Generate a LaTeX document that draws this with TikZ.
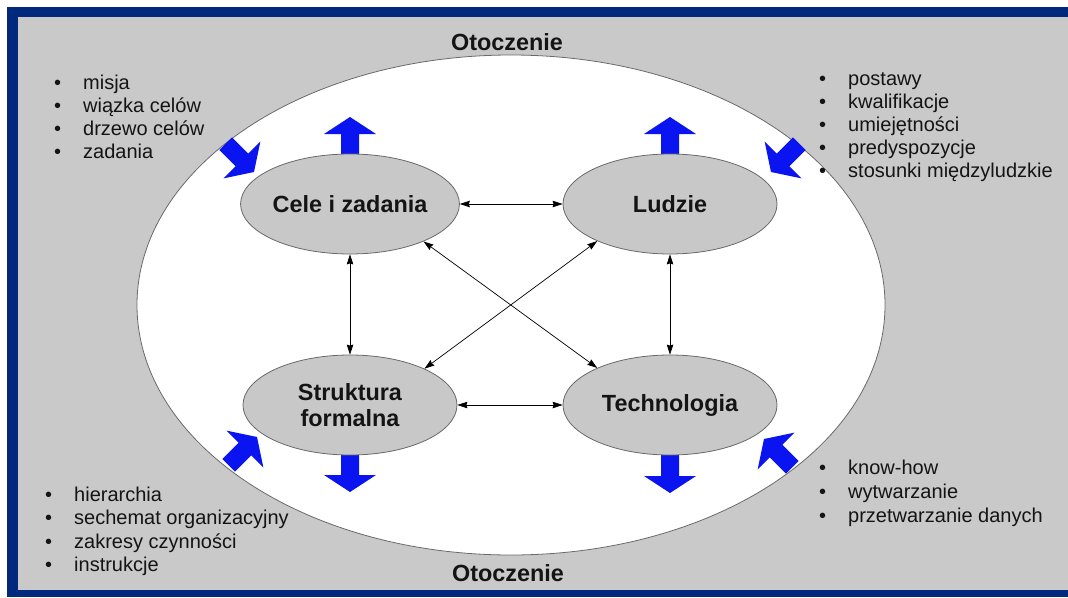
\documentclass[tikz,border=0pt]{standalone}
\usepackage{fontspec}
\setmainfont{Liberation Sans}
\usetikzlibrary{arrows.meta,shapes.geometric}
\definecolor{navyframe}{RGB}{0,40,125}
\definecolor{bggray}{RGB}{201,201,201}
\definecolor{ellgray}{RGB}{200,200,200}
\definecolor{edgegray}{RGB}{105,105,105}
\definecolor{arrblue}{RGB}{10,20,240}
\definecolor{txt}{RGB}{20,20,20}
\newcommand{\blockarr}[3]{%
  \fill[arrblue, shift={(#1,#2)}, rotate=#3] (0,0) -- (-17,26) -- (-17,9) -- (-40,9) -- (-40,-9) -- (-17,-9) -- (-17,-26) -- cycle;}
\tikzset{
  part/.style={ellipse, draw=edgegray, fill=ellgray, line width=0.8pt, minimum width=214pt, minimum height=100pt, inner sep=0pt, align=center, text=txt, font=\fontsize{23.4}{26}\selectfont\bfseries},
  envlabel/.style={anchor=base, inner sep=0pt, text=txt, font=\fontsize{23.4}{26}\selectfont\bfseries},
  conn/.style={draw=black, line width=0.7pt, {Stealth[length=10pt,width=6.5pt,inset=1pt]}-{Stealth[length=10pt,width=6.5pt,inset=1pt]}},
  bulletlist/.style={anchor=base west, inner sep=0pt, text=txt}
}
\begin{document}
\begin{tikzpicture}[x=1pt, y=-1pt]
\useasboundingbox (0,0) rectangle (1068,597);
\fill[white] (0,0) rectangle (1068,597);
\fill[navyframe] (7,7) rectangle (1068,597);
\fill[bggray] (18,17) rectangle (1068,590);

\node[ellipse, draw=edgegray, fill=white, line width=0.8pt, minimum width=748pt, minimum height=500pt, inner sep=0pt] (env) at (511,305) {};

\node[envlabel] (otop) at (507,50) {Otoczenie};
\node[envlabel] (obot) at (508,581) {Otoczenie};

% blue block arrows
\blockarr{350}{117}{90}
\blockarr{670}{117}{90}
\blockarr{350}{492}{-90}
\blockarr{670}{493}{-90}
\blockarr{254}{172}{-45}
\blockarr{771}{172}{-135}
\blockarr{257}{437}{45}
\blockarr{764}{439}{135}

\node[part] (cele) at (350,204) {Cele i zadania};
\node[part] (ludzie) at (670,204) {Ludzie};
\node[part] (strukt) at (350,405) {Struktura\\formalna};
\node[part] (tech) at (670,405) {Technologia};

\draw[conn] (cele) -- (ludzie);
\draw[conn] (strukt) -- (tech);
\draw[conn] (cele) -- (strukt);
\draw[conn] (ludzie) -- (tech);
\draw[conn] (cele.-27) -- (tech.153);
\draw[conn] (ludzie.207) -- (strukt.26);

\node[bulletlist, font=\fontsize{20}{23}\selectfont] (listtl) at (54,89) {\begin{tabular}[t]{@{}l@{\hspace{22pt}}l@{}}
• & misja\\ • & wiązka celów\\ • & drzewo celów\\ • & zadania\end{tabular}};
\node[bulletlist, font=\fontsize{20}{23}\selectfont] (listtr) at (819,85) {\begin{tabular}[t]{@{}l@{\hspace{22pt}}l@{}}
• & postawy\\ • & kwalifikacje\\ • & umiejętności\\ • & predyspozycje\\ • & stosunki międzyludzkie\end{tabular}};
\node[bulletlist, font=\fontsize{20}{23.5}\selectfont] (listbl) at (45,501) {\begin{tabular}[t]{@{}l@{\hspace{22pt}}l@{}}
• & hierarchia\\ • & sechemat organizacyjny\\ • & zakresy czynności\\ • & instrukcje\end{tabular}};
\node[bulletlist, font=\fontsize{20}{24}\selectfont] (listbr) at (819,474) {\begin{tabular}[t]{@{}l@{\hspace{22pt}}l@{}}
• & know-how\\ • & wytwarzanie\\ • & przetwarzanie danych\end{tabular}};
\end{tikzpicture}
\end{document}
